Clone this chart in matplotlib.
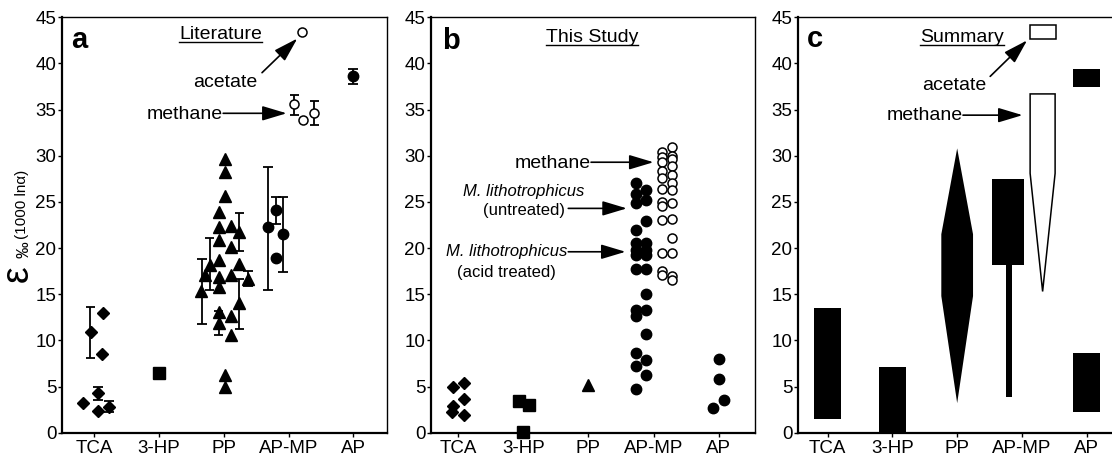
import numpy as np
import matplotlib
matplotlib.use("Agg")
import matplotlib.pyplot as plt
from matplotlib.patches import Polygon, Rectangle
from matplotlib.lines import Line2D

plt.rcParams['font.family'] = ['Liberation Sans', 'DejaVu Sans']

categories = ['TCA', '3-HP', 'PP', 'AP-MP', 'AP']

# a: literature values, offsets are jitter from the category position
lit_tca_dx = [-0.18, -0.05, 0.135, 0.126, 0.06, 0.06, 0.23]
lit_tca = [3.2, 10.9, 13.0, 8.5, 4.3, 2.4, 2.8]
lit_3hp_dx = [0.0]
lit_3hp = [6.5]
lit_pp_dx = [-0.35, -0.29, -0.22, -0.07, -0.07, -0.07, -0.07, -0.07, -0.07, -0.07, -0.07,
             0.02, 0.02, 0.02, 0.02, 0.02, 0.11, 0.11, 0.11, 0.11, 0.11, 0.24, 0.24, 0.24, 0.37]
lit_pp = [15.4, 17.1, 18.2, 23.9, 22.3, 20.9, 18.7, 16.9, 15.8, 13.1, 11.9,
          29.6, 28.2, 25.6, 6.3, 4.9, 22.4, 20.1, 17.1, 12.6, 10.6, 21.7, 18.3, 14.0, 16.7]
lit_apmp_dx = [-0.32, -0.19, -0.09, -0.19]
lit_apmp = [22.3, 24.1, 21.5, 18.9]
lit_methane_dx = [0.09, 0.22, 0.40]
lit_methane = [35.6, 33.9, 34.6]
lit_acetate_dx = [0.2]
lit_acetate = [43.4]
lit_ap_dx = [0.0]
lit_ap = [38.6]

# error bars of the literature values
lit_err_cat = [1, 1, 1, 3, 3, 3, 3, 3, 3, 4, 4, 4, 4, 4, 5]
lit_err_dx = [-0.06, 0.06, 0.23, -0.34, -0.22, -0.08, 0.24, 0.24, 0.37, -0.32, -0.19, -0.09, 0.09, 0.40, 0.0]
lit_err_lo = [8.1, 3.5, 2.2, 11.8, 15.5, 10.6, 19.7, 11.2, 15.9, 15.5, 22.6, 17.45, 34.4, 33.3, 37.8]
lit_err_hi = [13.6, 5.0, 3.4, 18.8, 21.1, 13.2, 23.8, 16.6, 17.5, 28.8, 25.5, 25.5, 36.6, 35.9, 39.4]

# b: this study
study_tca_dx = [-0.08, 0.08, 0.08, -0.08, -0.09, 0.09]
study_tca = [5.0, 5.4, 3.7, 2.9, 2.25, 1.9]
study_3hp_dx = [-0.07, 0.08, 0.0]
study_3hp = [3.45, 2.95, 0.1]
study_pp_dx = [0.0]
study_pp = [5.15]
study_apmp_dx = [-0.27, -0.27, -0.27, -0.27, -0.27, -0.27, -0.27, -0.27, -0.27, -0.27, -0.27, -0.27, -0.27,
                 -0.12, -0.12, -0.12, -0.12, -0.12, -0.12, -0.12, -0.12, -0.12, -0.12, -0.12, -0.12]
study_apmp = [27.0, 25.9, 24.9, 22.0, 20.5, 19.8, 19.2, 17.7, 13.3, 12.6, 8.6, 7.2, 4.7,
              26.3, 25.2, 22.9, 20.5, 19.8, 19.2, 17.7, 15.0, 13.3, 10.7, 7.9, 6.2]
study_methane_dx = [0.13, 0.13, 0.13, 0.13, 0.13, 0.13, 0.13, 0.13, 0.13, 0.13, 0.13, 0.13,
                    0.28, 0.28, 0.28, 0.28, 0.28, 0.28, 0.28, 0.28, 0.28, 0.28, 0.28, 0.28, 0.28]
study_methane = [30.4, 29.9, 29.3, 28.4, 27.6, 26.4, 25.0, 24.6, 23.0, 19.5, 17.5, 17.1,
                 30.9, 30.0, 29.6, 28.9, 27.9, 27.0, 26.3, 24.9, 23.2, 21.1, 19.5, 17.0, 16.5]
study_ap_dx = [0.0, 0.0, 0.08, -0.08]
study_ap = [8.0, 5.85, 3.5, 2.65]

# c: summary ranges
sum_tca = [1.5, 13.5]
sum_3hp = [0.0, 7.1]
sum_pp = [3.2, 14.8, 21.5, 30.8]
sum_apmp = [3.9, 18.2, 27.5]
sum_methane = [15.3, 28.1, 36.7]
sum_acetate = [42.65, 44.2]
sum_ap_low = [2.2, 8.6]
sum_ap_high = [37.4, 39.4]

W, H = 1112, 458
fig = plt.figure(figsize=(W / 100, H / 100), dpi=100)


def make_axes(left, width, xlim):
    ax = fig.add_axes([left / W, (H - 432.7) / H, width / W, 415.4 / H])
    ax.set_xlim(*xlim)
    ax.set_ylim(0, 45)
    ax.set_yticks(range(0, 46, 5))
    ax.set_xticks(range(1, 6))
    ax.set_xticklabels(categories)
    ax.tick_params(axis='y', direction='out', length=3, width=1, labelsize=13.5, pad=1)
    ax.tick_params(axis='x', direction='out', length=3, width=1, labelsize=13.5, pad=2.5)
    for s in ['left', 'bottom']:
        ax.spines[s].set_linewidth(1.6)
    for s in ['top', 'right']:
        ax.spines[s].set_linewidth(1.0)
    return ax


def pts(ax, cat, dx, y, marker, ms, filled=True):
    x = cat + np.array(dx)
    if filled:
        ax.plot(x, y, ls='none', marker=marker, ms=ms, color='k', clip_on=False, zorder=3)
    else:
        ax.plot(x, y, ls='none', marker=marker, ms=ms, mfc='white', mec='k', mew=1.1,
                clip_on=False, zorder=3)


def arrow(ax, start, end):
    ax.annotate('', xy=end, xytext=start,
                arrowprops=dict(arrowstyle='-|>,head_length=1.5,head_width=0.45',
                                mutation_scale=10, lw=1.2, color='k', shrinkA=0, shrinkB=0))


ax_a = make_axes(62, 325, (0.501, 5.52))
ax_b = make_axes(431, 324, (0.58, 5.56))
ax_c = make_axes(798, 321, (0.541, 5.5))

# panel a
for c, dx, lo, hi in zip(lit_err_cat, lit_err_dx, lit_err_lo, lit_err_hi):
    ax_a.vlines(c + dx, lo, hi, color='k', lw=1.3, zorder=2)
    ax_a.hlines([lo, hi], c + dx - 0.075, c + dx + 0.075, color='k', lw=1.3, zorder=2)
pts(ax_a, 1, lit_tca_dx, lit_tca, 'D', 6)
pts(ax_a, 2, lit_3hp_dx, lit_3hp, 's', 8)
pts(ax_a, 3, lit_pp_dx, lit_pp, '^', 8.5)
pts(ax_a, 4, lit_apmp_dx, lit_apmp, 'o', 7.5)
pts(ax_a, 4, lit_methane_dx, lit_methane, 'o', 6.5, filled=False)
pts(ax_a, 4, lit_acetate_dx, lit_acetate, 'o', 6.5, filled=False)
pts(ax_a, 5, lit_ap_dx, lit_ap, 'o', 7.5)

ax_a.text(3.02, 37.4, 'acetate', fontsize=14, ha='center', va='baseline')
arrow(ax_a, (3.59, 39.0), (4.135, 42.7))
ax_a.text(2.99, 34.0, 'methane', fontsize=14, ha='right', va='baseline')
arrow(ax_a, (2.99, 34.6), (3.97, 34.6))

# panel b
pts(ax_b, 1, study_tca_dx, study_tca, 'D', 6)
pts(ax_b, 2, study_3hp_dx, study_3hp, 's', 8)
pts(ax_b, 3, study_pp_dx, study_pp, '^', 8.5)
pts(ax_b, 4, study_apmp_dx, study_apmp, 'o', 7.5)
pts(ax_b, 4, study_methane_dx, study_methane, 'o', 6.5, filled=False)
pts(ax_b, 5, study_ap_dx, study_ap, 'o', 7.5)

ax_b.text(3.04, 28.7, 'methane', fontsize=14, ha='right', va='baseline')
arrow(ax_b, (3.04, 29.3), (4.0, 29.3))
ax_b.text(2.01, 25.6, 'M. lithotrophicus', fontsize=12, style='italic', ha='center', va='baseline')
ax_b.text(2.01, 23.6, '(untreated)', fontsize=12, ha='center', va='baseline')
arrow(ax_b, (2.69, 24.3), (3.59, 24.3))
ax_b.text(1.74, 19.1, 'M. lithotrophicus', fontsize=12, style='italic', ha='center', va='baseline')
ax_b.text(1.74, 16.9, '(acid treated)', fontsize=12, ha='center', va='baseline')
arrow(ax_b, (2.69, 19.6), (3.57, 19.6))

# panel c
ax_c.add_patch(Rectangle((1 - 0.205, sum_tca[0]), 0.41, sum_tca[1] - sum_tca[0], color='k', lw=0))
ax_c.add_patch(Rectangle((2 - 0.205, sum_3hp[0]), 0.41, sum_3hp[1] - sum_3hp[0], color='k', lw=0))
ax_c.add_patch(Polygon([(3, sum_pp[0]), (3.245, sum_pp[1]), (3.245, sum_pp[2]), (3, sum_pp[3]),
                        (2.755, sum_pp[2]), (2.755, sum_pp[1])], closed=True, color='k', lw=0))
ax_c.add_patch(Rectangle((3.8 - 0.05, sum_apmp[0]), 0.1, sum_apmp[1] - sum_apmp[0], color='k', lw=0))
ax_c.add_patch(Rectangle((3.785 - 0.24, sum_apmp[1]), 0.48, sum_apmp[2] - sum_apmp[1], color='k', lw=0))
ax_c.add_patch(Polygon([(4.32, sum_methane[0]), (4.513, sum_methane[1]), (4.513, sum_methane[2]),
                        (4.127, sum_methane[2]), (4.127, sum_methane[1])], closed=True,
                       fc='white', ec='k', lw=1.1))
ax_c.add_patch(Rectangle((4.127, sum_acetate[0]), 0.395, sum_acetate[1] - sum_acetate[0],
                         fc='white', ec='k', lw=1.1))
ax_c.add_patch(Rectangle((5 - 0.205, sum_ap_low[0]), 0.41, sum_ap_low[1] - sum_ap_low[0], color='k', lw=0))
ax_c.add_patch(Rectangle((5 - 0.205, sum_ap_high[0]), 0.41, sum_ap_high[1] - sum_ap_high[0], color='k', lw=0))

ax_c.text(2.96, 37.1, 'acetate', fontsize=14, ha='center', va='baseline')
arrow(ax_c, (3.51, 38.6), (4.08, 42.5))
ax_c.text(3.085, 33.9, 'methane', fontsize=14, ha='right', va='baseline')
arrow(ax_c, (3.09, 34.4), (4.01, 34.4))

# panel letters and underlined titles
titles = []
for ax, letter, lx, ly, title, tx, ty in [
        (ax_a, 'a', 0.028, 0.925, 'Literature', 0.488, 0.948),
        (ax_b, 'b', 0.033, 0.923, 'This Study', 0.496, 0.941),
        (ax_c, 'c', 0.027, 0.928, 'Summary', 0.511, 0.941)]:
    ax.text(lx, ly, letter, transform=ax.transAxes, fontsize=21, fontweight='bold', va='baseline')
    t = ax.text(tx, ty, title, transform=ax.transAxes, fontsize=14, ha='center', va='baseline')
    titles.append((ax, t, ty))

fig.canvas.draw()
renderer = fig.canvas.get_renderer()
for ax, t, ty in titles:
    bb = t.get_window_extent(renderer)
    y = ax.transAxes.transform((0, ty))[1] - 3
    fig.add_artist(Line2D([bb.x0 / W, bb.x1 / W], [y / H, y / H], color='k', lw=1.0))

# y label: big epsilon with per mille subscript, then the definition
fig.text(17.5 / W, 1 - 274 / H, '\u03b5', rotation=90, fontsize=27, ha='center', va='center')
fig.text(24 / W, 1 - 250 / H, '\u2030', rotation=90, fontsize=12, ha='center', va='center')
fig.text(22 / W, 1 - 204 / H, '(1000 ln\u03b1)', rotation=90, fontsize=11, ha='center', va='center')

fig.savefig('out.png', dpi=100)
